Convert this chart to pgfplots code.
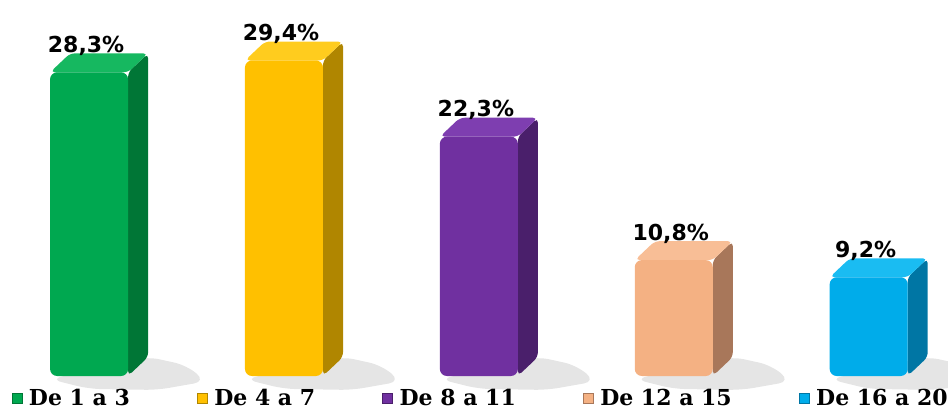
\documentclass[border=0pt]{standalone}
\usepackage{fontspec}
\usepackage{pgfplots}
\pgfplotsset{compat=1.18}

\newfontfamily\labfont{DejaVu Sans}
\newfontfamily\legfont{DejaVu Serif}

% front / side / top colours
\definecolor{gF}{RGB}{0,168,80}    \definecolor{gS}{RGB}{0,118,54}   \definecolor{gT}{RGB}{22,184,96}
\definecolor{yF}{RGB}{255,192,0}   \definecolor{yS}{RGB}{176,134,0}  \definecolor{yT}{RGB}{255,204,30}
\definecolor{pF}{RGB}{112,48,160}  \definecolor{pS}{RGB}{74,31,107}  \definecolor{pT}{RGB}{126,62,176}
\definecolor{oF}{RGB}{244,177,131} \definecolor{oS}{RGB}{168,119,90} \definecolor{oT}{RGB}{248,190,150}
\definecolor{bF}{RGB}{0,172,234}   \definecolor{bS}{RGB}{0,118,164}  \definecolor{bT}{RGB}{26,188,242}

\pgfplotsset{
  front/.style={ybar, bar width=78pt, bar shift=0pt, draw=none, rounded corners=7pt,
    nodes near coords={\pgfmathprintnumber[assume math mode=true,fixed,fixed zerofill,precision=1,use comma]{\pgfplotspointmeta}\%},
    every node near coord/.append style={font=\labfont\bfseries\fontsize{22}{22}\selectfont,
      text=black, anchor=base, yshift=20pt, xshift=-3pt}},
  face/.style={draw=none, forget plot, rounded corners=5pt},
  shadow/.style={fill=black, opacity=0.10, draw=none, forget plot, rounded corners=12pt},
}

\begin{document}
\begin{tikzpicture}
\begin{axis}[
  name=ax,
  width=948pt, height=376pt, scale only axis,
  hide axis, clip=false,
  xmin=-0.457, xmax=4.407,
  ymin=0, ymax=35.04,
  legend columns=5,
  legend image code/.code={\path[#1] (0pt,-5pt) rectangle (10pt,5pt);},
  legend style={draw=none, fill=none, inner sep=0pt,
    at={(axis description cs:0.012,-0.0585)}, anchor=west,
    font=\legfont\bfseries\fontsize{22}{22}\selectfont,
    nodes={inner sep=0pt},
    /tikz/every odd column/.append style={column sep=7pt},
    /tikz/every even column/.append style={column sep=67pt}},
]

% shadows
\addplot[shadow] coordinates {(-0.2,-0.3) (0.0,-1.2) (0.35,-1.3) (0.6,-0.5) (0.5,1.0) (0.3,1.8)} -- cycle;
\addplot[shadow] coordinates {(0.8,-0.3) (1.0,-1.2) (1.35,-1.3) (1.6,-0.5) (1.5,1.0) (1.3,1.8)} -- cycle;
\addplot[shadow] coordinates {(1.8,-0.3) (2.0,-1.2) (2.35,-1.3) (2.6,-0.5) (2.5,1.0) (2.3,1.8)} -- cycle;
\addplot[shadow] coordinates {(2.8,-0.3) (3.0,-1.2) (3.35,-1.3) (3.6,-0.5) (3.5,1.0) (3.3,1.8)} -- cycle;
\addplot[shadow] coordinates {(3.8,-0.3) (4.0,-1.2) (4.35,-1.3) (4.6,-0.5) (4.5,1.0) (4.3,1.8)} -- cycle;

% De 1 a 3 : 28.3
\addplot[face, fill=gS] coordinates {(0.2,28.3) (0.303,30.07) (0.303,1.77) (0.2,0)} -- cycle;
\addplot[face, fill=gT] coordinates {(-0.2,28.3) (-0.097,30.07) (0.303,30.07) (0.2,28.3)} -- cycle;
\addplot[front, fill=gF, forget plot] coordinates {(0,28.3)};
% De 4 a 7 : 29.4
\addplot[face, fill=yS] coordinates {(1.2,29.4) (1.303,31.17) (1.303,1.77) (1.2,0)} -- cycle;
\addplot[face, fill=yT] coordinates {(0.8,29.4) (0.903,31.17) (1.303,31.17) (1.2,29.4)} -- cycle;
\addplot[front, fill=yF, forget plot] coordinates {(1,29.4)};
% De 8 a 11 : 22.3
\addplot[face, fill=pS] coordinates {(2.2,22.3) (2.303,24.07) (2.303,1.77) (2.2,0)} -- cycle;
\addplot[face, fill=pT] coordinates {(1.8,22.3) (1.903,24.07) (2.303,24.07) (2.2,22.3)} -- cycle;
\addplot[front, fill=pF, forget plot] coordinates {(2,22.3)};
% De 12 a 15 : 10.8
\addplot[face, fill=oS] coordinates {(3.2,10.8) (3.303,12.57) (3.303,1.77) (3.2,0)} -- cycle;
\addplot[face, fill=oT] coordinates {(2.8,10.8) (2.903,12.57) (3.303,12.57) (3.2,10.8)} -- cycle;
\addplot[front, fill=oF, forget plot] coordinates {(3,10.8)};
% De 16 a 20 : 9.2
\addplot[face, fill=bS] coordinates {(4.2,9.2) (4.303,10.97) (4.303,1.77) (4.2,0)} -- cycle;
\addplot[face, fill=bT] coordinates {(3.8,9.2) (3.903,10.97) (4.303,10.97) (4.2,9.2)} -- cycle;
\addplot[front, fill=bF, forget plot] coordinates {(4,9.2)};

\addlegendimage{fill=gF, draw=gS}\addlegendentry{De 1 a 3}
\addlegendimage{fill=yF, draw=yS}\addlegendentry{De 4 a 7}
\addlegendimage{fill=pF, draw=pS}\addlegendentry{De 8 a 11}
\addlegendimage{fill=oF, draw=oS}\addlegendentry{De 12 a 15}
\addlegendimage{fill=bF, draw=bS}\addlegendentry{De 16 a 20}
\end{axis}
\pgfresetboundingbox
\path[use as bounding box] (ax.south west) ++(0,-34pt) rectangle (ax.north east);
\end{tikzpicture}
\end{document}
